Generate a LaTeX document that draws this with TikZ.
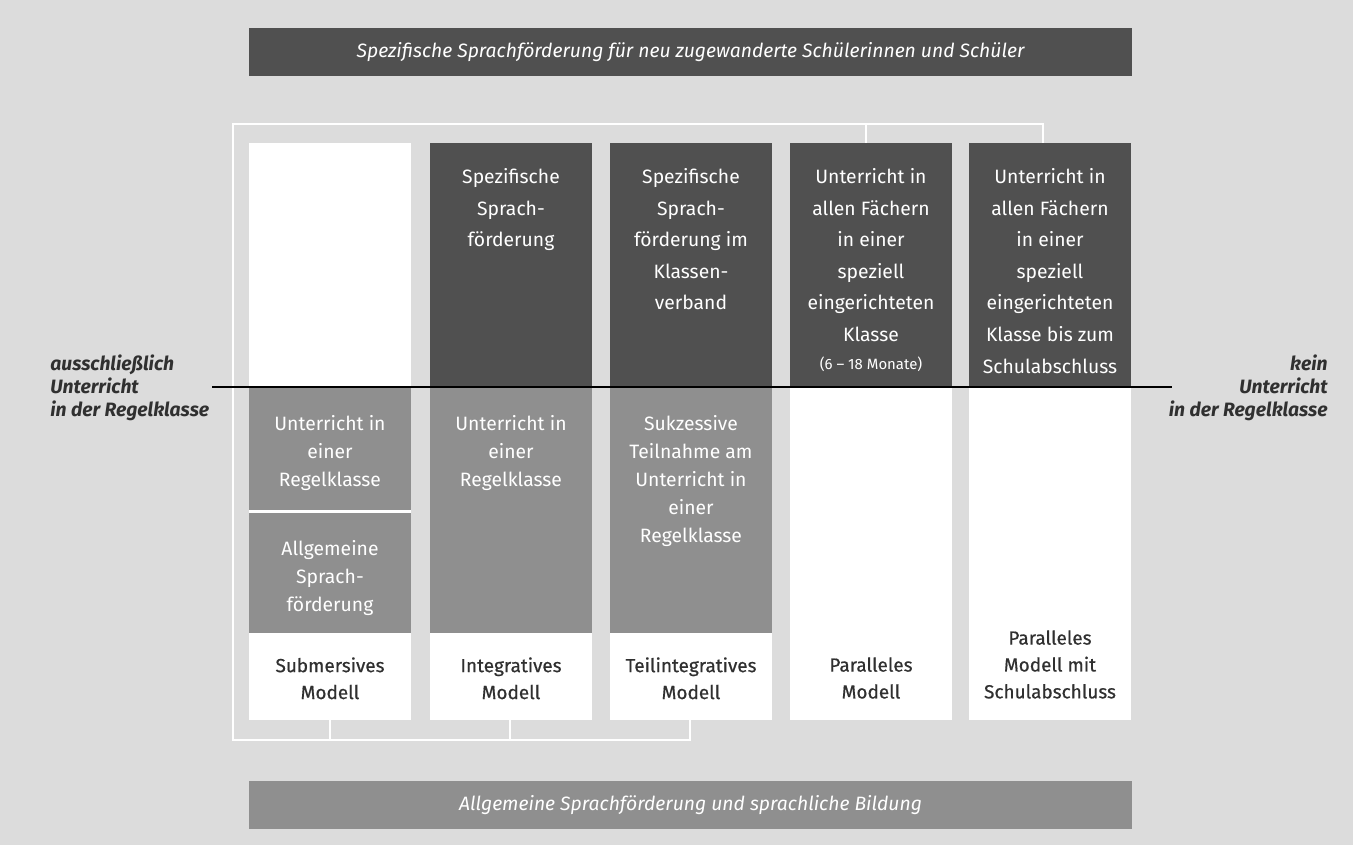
\documentclass[tikz,border=0pt]{standalone}
\usepackage{fontspec}
\setmainfont{Fira Sans}
\newfontfamily\halbfett{Fira Sans}[FakeBold=0.6]
\definecolor{grund}{HTML}{DCDCDC}
\definecolor{dunkel}{HTML}{505050}
\definecolor{mittel}{HTML}{8F8F8F}
\definecolor{schrift}{HTML}{303030}

\begin{document}
\begin{tikzpicture}[x=0.02cm,y=-0.02cm,
	klammer/.style={draw=white,line width=1.1pt},
	balken/.style={text=white,inner sep=0pt,font=\fontsize{11}{14}\selectfont\itshape},
	oben/.style={text=white,align=center,anchor=north,inner sep=0pt,font=\fontsize{11}{18}\selectfont},
	mitte/.style={text=white,align=center,anchor=north,inner sep=0pt,font=\fontsize{11}{15.9}\selectfont},
	modell/.style={text=schrift,align=center,anchor=north,inner sep=0pt,font=\fontsize{10.8}{15.3}\halbfett},
	seite/.style={text=schrift,inner sep=0pt,font=\fontsize{11}{13.3}\selectfont\bfseries\itshape}]
	\fill[grund] (0,0) rectangle (1353,845);
	% Balken oben und unten
	\fill[dunkel] (249,28) rectangle (1132,76);
	\node[balken] (spezifisch) at (690.5,52) {Spezifische Sprachförderung für neu zugewanderte Schülerinnen und Schüler};
	\fill[mittel] (249,781) rectangle (1132,829);
	\node[balken] (allgemein) at (690.5,805) {Allgemeine Sprachförderung und sprachliche Bildung};
	% Klammern
	\draw[klammer] (1043,143)--(1043,124)--(233,124)--(233,740)--(690,740)--(690,720);
	\draw[klammer] (866,124)--(866,143);
	\draw[klammer] (330,720)--(330,740);
	\draw[klammer] (510,720)--(510,740);
	% Spalten
	\foreach \x in {249,430,610,790,969} \fill[white] (\x,143) rectangle ++(162,577);
	\foreach \x in {430,610,790,969} \fill[dunkel] (\x,143) rectangle ++(162,244);
	\fill[mittel] (249,387) rectangle (411,510);
	\fill[mittel] (249,513) rectangle (411,633);
	\fill[mittel] (430,387) rectangle (592,633);
	\fill[mittel] (610,387) rectangle (772,633);
	% Trennlinie
	\node[seite,anchor=north west,align=left] (ausschl) at (50,354) {ausschließlich\\Unterricht\\in der Regelklasse};
	\node[seite,anchor=north east,align=right] (kein) at (1328,354) {kein\\Unterricht\\in der Regelklasse};
	\coordinate (links) at (212,387);
	\coordinate (rechts) at (1172,387);
	\draw[line width=1.2pt] (links)--(rechts);
	% Texte oben
	\node[oben] (spez2) at (511,168) {Spezifische\\Sprach-\\förderung};
	\node[oben] (spez3) at (691,168) {Spezifische\\Sprach-\\förderung im\\Klassen-\\verband};
	\node[oben] (par4) at (871,168) {Unterricht in\\allen Fächern\\in einer\\speziell\\eingerichteten\\Klasse\\[-2pt]{\fontsize{8.5}{11}\selectfont(6 -- 18 Monate)}};
	\node[oben] (par5) at (1050,168) {Unterricht in\\allen Fächern\\in einer\\speziell\\eingerichteten\\Klasse bis zum\\Schulabschluss};
	% Texte Mitte
	\node[mitte] (regel1) at (330,415) {Unterricht in\\einer\\Regelklasse};
	\node[mitte] (allg1) at (330,540) {Allgemeine\\Sprach-\\förderung};
	\node[mitte] (regel2) at (511,415) {Unterricht in\\einer\\Regelklasse};
	\node[mitte] (regel3) at (691,415) {Sukzessive\\Teilnahme am\\Unterricht in\\einer\\Regelklasse};
	% Modelle
	\node[modell] (submersiv) at (330,657) {Submersives\\Modell};
	\node[modell] (integrativ) at (511,657) {Integratives\\Modell};
	\node[modell] (teilintegrativ) at (691,657) {Teilintegratives\\Modell};
	\node[modell] (parallel) at (871,657) {Paralleles\\Modell};
	\node[modell] (abschluss) at (1050,630) {Paralleles\\Modell mit\\Schulabschluss};
\end{tikzpicture}
\end{document}
